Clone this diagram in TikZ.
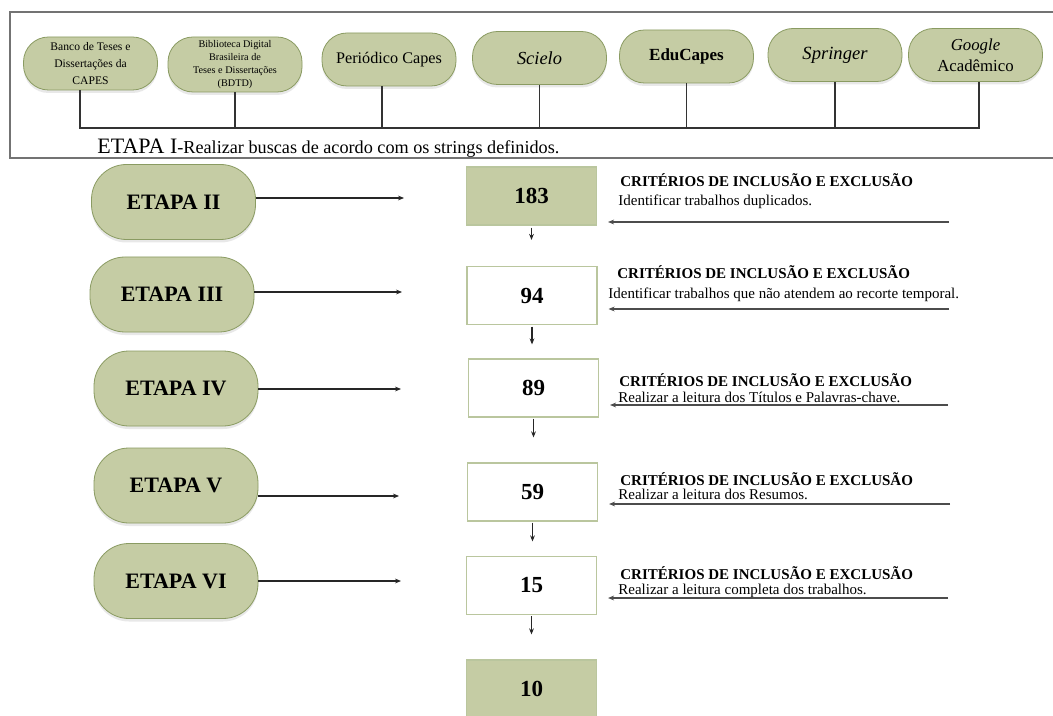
\documentclass[tikz,border=0pt]{standalone}
\usepackage{fontspec}
\setmainfont{Liberation Serif}
\usetikzlibrary{arrows.meta,shadows}

\definecolor{verdeoliva}{RGB}{197,204,164}
\definecolor{bordaoliva}{RGB}{138,155,98}
\definecolor{bordacaixa}{RGB}{186,198,158}

\tikzset{
  sombra/.style={drop shadow={shadow xshift=0pt, shadow yshift=-1.5pt, opacity=0.15, fill=black!60}},
  base/.style={draw=bordaoliva, fill=verdeoliva, rounded corners=12.5pt, minimum width=67pt,
    minimum height=26.5pt, align=center, inner sep=1pt, sombra},
  etapa/.style={draw=bordaoliva, fill=verdeoliva, rounded corners=17.5pt, minimum width=82pt,
    minimum height=37.5pt, font=\fontsize{11}{13}\selectfont\bfseries, sombra},
  total/.style={draw=bordacaixa, line width=0.6pt, minimum width=65pt, minimum height=29pt,
    font=\fontsize{11.5}{13}\selectfont\bfseries},
  totalverde/.style={total, fill=verdeoliva},
  liga/.style={black!80, line width=0.7pt},
  flecha/.style={-{Stealth[length=3pt,width=2.4pt]}, black!85, line width=0.65pt},
  flechacrit/.style={flecha, black!70, line width=0.8pt, shorten >=5.5pt},
  criterio/.style={anchor=base west, inner sep=0pt, font=\fontsize{7.5}{9}\selectfont},
}

\begin{document}
\begin{tikzpicture}[x=0.5pt, y=-0.5pt]
		%%%%% START %%%%%
		\fill[white] (0,0) rectangle (1053,716);
		\useasboundingbox (0,0) rectangle (1053,716);
		
		% ETAPA I: bases consultadas
		\draw[black!55, line width=0.8pt] (10,12) rectangle (1060,158);
		
		\node[base, font=\fontsize{5.8}{8.5}\selectfont] (db1) at (90.5,63.5) {Banco de Teses e\\Dissertações da\\CAPES};
		\node[base, font=\fontsize{5.1}{6.5}\selectfont, minimum height=27.5pt] (db2) at (235,64.5) {Biblioteca Digital\\Brasileira de\\Teses e Dissertações\\(BDTD)};
		\node[base, font=\fontsize{8.1}{10}\selectfont] (db3) at (389,59.5) {Periódico Capes};
		\node[base, font=\fontsize{9.2}{11}\selectfont\itshape] (db4) at (539.5,58) {Scielo};
		\node[base, font=\fontsize{8.5}{10}\selectfont\bfseries] (db5) at (686.5,56.5) {EduCapes};
		\node[base, font=\fontsize{9.3}{11}\selectfont\itshape] (db6) at (835,55) {Springer};
		\node[base, font=\fontsize{8.4}{10.5}\selectfont] (db7) at (975.5,55) {\textit{Google}\\Acadêmico};
		
		\coordinate (barra) at (0,128);
		\draw[liga] ([xshift=-5.25pt]db1.south) |- ([xshift=1.75pt]db7.south |- barra) -- ([xshift=1.75pt]db7.south);
		\draw[liga] (db2.south) -- (db2.south |- barra);
		\draw[liga] ([xshift=-3.5pt]db3.south) -- ([xshift=-3.5pt]db3.south |- barra);
		\draw[liga] (db4.south) -- (db4.south |- barra);
		\draw[liga] (db5.south) -- (db5.south |- barra);
		\draw[liga] (db6.south) -- (db6.south |- barra);
		
		\node[anchor=base west, inner sep=0pt] (etapa1) at (97,154) {{\fontsize{11}{13}\selectfont ETAPA I}{\fontsize{9.1}{11}\selectfont -Realizar buscas de acordo com os strings definidos.}};
		
		% ETAPAS II a VI
		\node[etapa] (e2) at (173.5,202) {ETAPA II};
		\node[etapa] (e3) at (172,294.5) {ETAPA III};
		\node[etapa] (e4) at (176,388.5) {ETAPA IV};
		\node[etapa] (e5) at (176,485.5) {ETAPA V};
		\node[etapa] (e6) at (176,581) {ETAPA VI};
		
		\coordinate (s2) at (404,198);
		\coordinate (s3) at (402,292);
		\coordinate (s4) at (401,389);
		\coordinate (s5) at (399,496);
		\coordinate (s6) at (401,581);
		\draw[flecha] (e2.east |- s2) -- (s2);
		\draw[flecha] (e3.east |- s3) -- (s3);
		\draw[flecha] (e4.east |- s4) -- (s4);
		\draw[flecha] (e5.east |- s5) -- (s5);
		\draw[flecha] (e6.east |- s6) -- (s6);
		
		% trabalhos restantes
		\node[totalverde] (n183) at (531.5,196) {183};
		\node[total] (n94) at (532,295.5) {94};
		\node[total] (n89) at (533.5,388) {89};
		\node[total] (n59) at (532.5,492) {59};
		\node[total] (n15) at (531.5,585.5) {15};
		\node[totalverde] (n10) at (531.5,689) {10};
		
		\draw[flecha, shorten <=1pt, shorten >=13pt] (n183.south) -- (n183.south |- n94.north);
		\draw[flecha, shorten <=0.75pt, shorten >=7pt] (n94.south) -- (n94.south |- n89.north);
		\draw[flecha, shorten <=0.5pt, shorten >=12.5pt] (n89.south) -- (n89.south |- n59.north);
		\draw[flecha, shorten <=0.5pt, shorten >=7.25pt] (n59.south) -- (n59.south |- n15.north);
		\draw[flecha, shorten <=0.5pt, shorten >=12.5pt] (n15.south) -- (n15.south |- n10.north);
		
		% criterios de inclusao e exclusao
		\node[criterio, font=\fontsize{7.5}{9}\selectfont\bfseries] (t1) at (620,187) {CRITÉRIOS DE INCLUSÃO E EXCLUSÃO};
		\node[criterio] (c1) at (618,206) {Identificar trabalhos duplicados.};
		\node[criterio, font=\fontsize{7.5}{9}\selectfont\bfseries] (t2) at (617,279) {CRITÉRIOS DE INCLUSÃO E EXCLUSÃO};
		\node[criterio] (c2) at (608,299) {Identificar trabalhos que não atendem ao recorte temporal.};
		\node[criterio, font=\fontsize{7.5}{9}\selectfont\bfseries] (t3) at (619,386) {CRITÉRIOS DE INCLUSÃO E EXCLUSÃO};
		\node[criterio] (c3) at (618,402) {Realizar a leitura dos Títulos e Palavras-chave.};
		\node[criterio, font=\fontsize{7.5}{9}\selectfont\bfseries] (t4) at (620,485) {CRITÉRIOS DE INCLUSÃO E EXCLUSÃO};
		\node[criterio] (c4) at (618,499) {Realizar a leitura dos Resumos.};
		\node[criterio, font=\fontsize{7.5}{9}\selectfont\bfseries] (t5) at (620,579) {CRITÉRIOS DE INCLUSÃO E EXCLUSÃO};
		\node[criterio] (c5) at (618,594) {Realizar a leitura completa dos trabalhos.};
		
		\coordinate (d1) at (949,222);
		\coordinate (d2) at (949,309);
		\coordinate (d3) at (948,405);
		\coordinate (d4) at (950,504);
		\coordinate (d5) at (948,598);
		\draw[flechacrit] (d1) -- (n183.east |- d1);
		\draw[flechacrit] (d2) -- (n94.east |- d2);
		\draw[flechacrit] (d3) -- (n89.east |- d3);
		\draw[flechacrit] (d4) -- (n59.east |- d4);
		\draw[flechacrit] (d5) -- (n15.east |- d5);
		
		%%%%% END %%%%%
	\end{tikzpicture}
\end{document}
